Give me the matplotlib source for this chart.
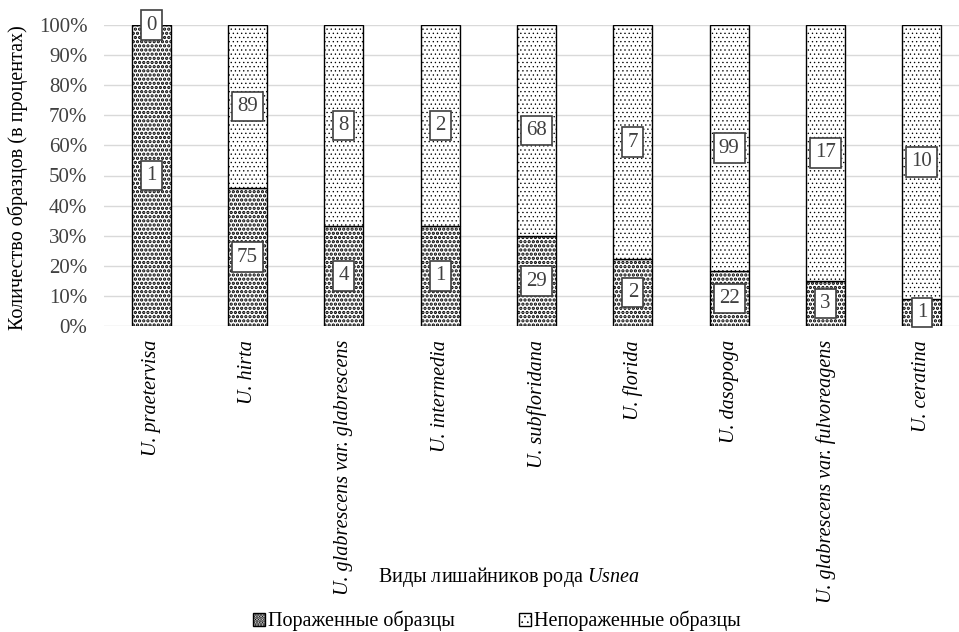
import numpy as np
import matplotlib
matplotlib.use('Agg')
import matplotlib.pyplot as plt
import matplotlib.patches as mpatches

plt.rcParams['font.family'] = ['Liberation Serif', 'DejaVu Serif']
plt.rcParams['mathtext.fontset'] = 'custom'
plt.rcParams['mathtext.it'] = 'Liberation Serif:italic'
plt.rcParams['mathtext.rm'] = 'Liberation Serif'

species = ['U. praetervisa', 'U. hirta', 'U. glabrescens var. glabrescens',
           'U. intermedia', 'U. subfloridana', 'U. florida', 'U. dasopoga',
           'U. glabrescens var. fulvoreagens', 'U. ceratina']
affected = [1, 75, 4, 1, 29, 2, 22, 3, 1]
unaffected = [0, 89, 8, 2, 68, 7, 99, 17, 10]

aff = np.array(affected, dtype=float)
una = np.array(unaffected, dtype=float)
total = aff + una
aff_pct = aff / total * 100
una_pct = una / total * 100

DARK_LW = 1.6
LIGHT_LW = 0.45

def set_hlw(p, lw):
    if hasattr(p, 'set_hatch_linewidth'):
        p.set_hatch_linewidth(lw)
    else:
        p._hatch_linewidth = lw

fig = plt.figure(figsize=(9.59, 6.32), dpi=100)
ax = fig.add_axes([104/959., 1-326/632., 1-104/959., 301/632.])

x = np.arange(len(species))
w = 0.405
b1 = ax.bar(x, aff_pct, w, color='white', edgecolor='black', hatch='....',
            linewidth=1.0, zorder=2)
b2 = ax.bar(x, una_pct, w, bottom=aff_pct, color='white', edgecolor='black',
            hatch='....', linewidth=1.0, zorder=2)
for p in b1:
    set_hlw(p, DARK_LW)
for p in b2:
    set_hlw(p, LIGHT_LW)

h1 = mpatches.Rectangle((0, 0), 1, 1, facecolor='white', edgecolor='black',
                        hatch='......', linewidth=1.0, label='Пораженные образцы')
h2 = mpatches.Rectangle((0, 0), 1, 1, facecolor='white', edgecolor='black',
                        hatch='...', linewidth=1.0, label='Непораженные образцы')

box = dict(boxstyle='square,pad=0.25', facecolor='white', edgecolor='#404040', linewidth=1.2)
for i in range(len(species)):
    ax.text(x[i], aff_pct[i]/2, str(affected[i]), ha='center', va='center',
            fontsize=15, color='#404040', bbox=box, zorder=5)
    ax.text(x[i], aff_pct[i] + una_pct[i]/2, str(unaffected[i]), ha='center', va='center',
            fontsize=15, color='#404040', bbox=box, zorder=5)

ax.set_ylim(0, 100)
ax.set_xlim(-0.49, 8.385)
ax.set_yticks(np.arange(0, 101, 10))
ax.set_yticklabels(['%d%%' % v for v in range(0, 101, 10)], fontsize=15, color='#404040')
ax.yaxis.grid(True, color='#d9d9d9', linewidth=1.0, zorder=0)
ax.set_axisbelow(True)
ax.set_xticks(x)
ax.set_xticklabels(species, rotation=90, fontsize=14.5, style='italic', va='top')
ax.tick_params(axis='both', length=0)
ax.tick_params(axis='y', pad=12)
ax.tick_params(axis='x', pad=10)
for s in ax.spines.values():
    s.set_visible(False)

fig.text(18/959., 1-178/632., 'Количество образцов (в процентах)', rotation=90,
         ha='center', va='center', fontsize=14.5)
fig.text(378/959., 1-577/632., 'Виды лишайников рода $\\mathit{Usnea}$',
         ha='left', va='center', fontsize=14.5)

leg = fig.legend(handles=[h1, h2], loc='center', bbox_to_anchor=(497/959., 1-621/632.),
                 ncol=2, frameon=False, fontsize=14.5, handlelength=0.6, handleheight=0.6,
                 handletextpad=0.15, columnspacing=3.2)
lp = leg.get_patches()
set_hlw(lp[0], DARK_LW)
set_hlw(lp[1], LIGHT_LW)

fig.savefig('out.png', dpi=100)
